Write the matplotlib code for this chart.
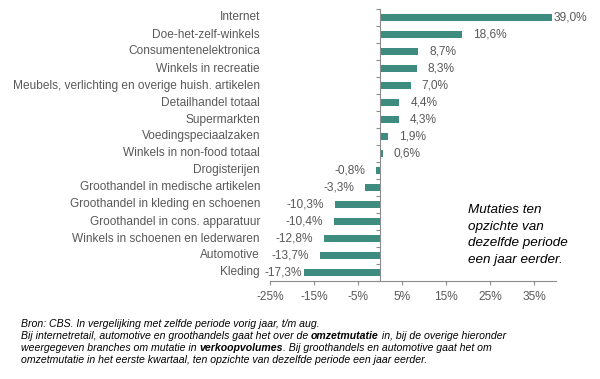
import matplotlib
matplotlib.use("Agg")
import matplotlib.pyplot as plt
import matplotlib.transforms as mtransforms
from matplotlib.text import Annotation
from matplotlib.ticker import FuncFormatter

# ===== Data =====
categories = [
    "Internet", "Doe-het-zelf-winkels", "Consumentenelektronica",
    "Winkels in recreatie", "Meubels, verlichting en overige huish. artikelen",
    "Detailhandel totaal", "Supermarkten", "Voedingspeciaalzaken",
    "Winkels in non-food totaal", "Drogisterijen",
    "Groothandel in medische artikelen", "Groothandel in kleding en schoenen",
    "Groothandel in cons. apparatuur", "Winkels in schoenen en lederwaren",
    "Automotive", "Kleding",
]
values = [39.0, 18.6, 8.7, 8.3, 7.0, 4.4, 4.3, 1.9, 0.6, -0.8,
          -3.3, -10.3, -10.4, -12.8, -13.7, -17.3]
xticks = [-25, -15, -5, 5, 15, 25, 35]

note_text = "Mutaties ten\nopzichte van\ndezelfde periode\neen jaar eerder."
footnote_lines = [
    [("Bron: CBS. In vergelijking met zelfde periode vorig jaar, t/m aug.", "normal")],
    [("Bij internetretail, automotive en groothandels gaat het over de ", "normal"),
     ("omzetmutatie", "bold"), (" in, bij de overige hieronder", "normal")],
    [("weergegeven branches om mutatie in ", "normal"), ("verkoopvolumes", "bold"),
     (". Bij groothandels en automotive gaat het om", "normal")],
    [("omzetmutatie in het eerste kwartaal, ten opzichte van dezelfde periode een jaar eerder.", "normal")],
]

# ===== Style =====
plt.rcParams["font.family"] = ["Liberation Sans", "DejaVu Sans"]
BAR = "#3d8c7f"
GREY = "#595959"
AXIS = "#8c8c8c"
FS = 8.6
W, H = 600, 379

fig = plt.figure(figsize=(6.0, 3.79), dpi=100)
ax = fig.add_axes([270 / W, 1 - 281 / H, 286 / W, 272 / H])

n = len(categories)
ypos = list(range(n))
ax.barh(ypos, values, height=0.4, color=BAR, zorder=2)
ax.set_xlim(-25, 40)
ax.set_ylim(n - 0.5, -0.5)

# y-as op de nullijn, streepjes tussen de categorieen
for s in ["top", "right"]:
    ax.spines[s].set_visible(False)
ax.spines["left"].set_position(("data", 0))
ax.spines["left"].set_color(AXIS)
ax.spines["bottom"].set_color(AXIS)
ax.set_yticks([i - 0.5 for i in range(n + 1)])
ax.tick_params(axis="y", length=3, color=AXIS, labelleft=False)

ax.set_xticks(xticks)
ax.xaxis.set_major_formatter(FuncFormatter(lambda v, p: f"{v:.0f}%"))
ax.tick_params(axis="x", length=3, color=AXIS, labelsize=FS, labelcolor=GREY, pad=4)

# categorie labels links van de grafiek
trans = mtransforms.blended_transform_factory(ax.transAxes, ax.transData)
for i, c in enumerate(categories):
    ax.text(-10 / 286, i, c, transform=trans, ha="right", va="center",
            fontsize=FS, color=GREY)

# waarde labels
vmax, vmin = max(values), min(values)
for i, v in enumerate(values):
    lab = f"{v:.1f}".replace(".", ",") + "%"
    pad = 2 if v in (vmax, vmin) else 11
    sign = 1 if v >= 0 else -1
    ax.annotate(lab, (v, i), xytext=(sign * pad * 0.72, 0), textcoords="offset points",
                ha="left" if v >= 0 else "right", va="center", fontsize=FS, color=GREY)

# toelichting
fig.text(468 / W, 1 - 204 / H, note_text, ha="left", va="top", fontsize=9.7,
         style="italic", color="black", linespacing=1.5)

# voetnoot met vetgedrukte delen
for k, line in enumerate(footnote_lines):
    y = 1 - (327 + 12 * k) / H
    prev = None
    for txt, wt in line:
        if prev is None:
            prev = fig.text(21 / W, y, txt, ha="left", va="baseline", fontsize=7.6,
                            style="italic", weight=wt, color="black")
        else:
            prev = fig.add_artist(Annotation(
                txt, (1, 0), xycoords=prev, ha="left", va="bottom",
                fontsize=7.6, style="italic", weight=wt, color="black"))

fig.savefig("out.png", dpi=100)
